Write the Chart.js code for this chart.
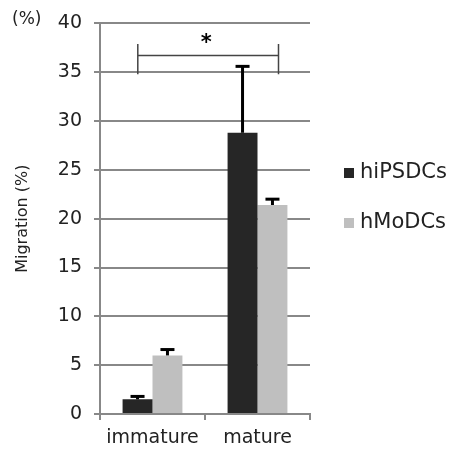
<!DOCTYPE html>
<html>
<head>
<meta charset="utf-8">
<script src="https://cdn.jsdelivr.net/npm/chart.js@4.4.0/dist/chart.umd.min.js"></script>
<style>
  body { margin: 0; background: #fff; }
  #wrap { width: 450px; height: 450px; }
</style>
</head>
<body>
<div id="wrap"><canvas id="myChart" width="450" height="450"></canvas></div>
<script>
var categories = ['immature', 'mature'];
var seriesNames = ['hiPSDCs', 'hMoDCs'];
var hiPSValues = [1.5, 28.8];
var hiPSErrors = [0.3, 6.8];
var hMoValues = [6.0, 21.4];
var hMoErrors = [0.6, 0.6];
var yTicks = [0, 5, 10, 15, 20, 25, 30, 35, 40];
// significance bracket, x in category index units
var bracket = { from: -0.14, to: 1.2, y: 36.7, top: 37.9, bottom: 34.8, label: '*' };

var font = '"DejaVu Sans", Verdana, sans-serif';

var extras = {
  id: 'extras',
  afterDatasetsDraw: function(chart) {
    var ctx = chart.ctx;
    var y = chart.scales.y, x = chart.scales.x;
    ctx.save();
    // error bars
    var errs = [hiPSErrors, hMoErrors];
    chart.data.datasets.forEach(function(ds, di) {
      var meta = chart.getDatasetMeta(di);
      meta.data.forEach(function(bar, i) {
        var top = y.getPixelForValue(ds.data[i] + errs[di][i]);
        ctx.strokeStyle = '#000';
        ctx.lineWidth = 3;
        ctx.beginPath();
        ctx.moveTo(bar.x, bar.y);
        ctx.lineTo(bar.x, top);
        ctx.stroke();
        ctx.beginPath();
        ctx.moveTo(bar.x - 7, top);
        ctx.lineTo(bar.x + 7, top);
        ctx.stroke();
      });
    });
    // bracket
    var x1 = x.getPixelForValue(bracket.from);
    var x2 = x.getPixelForValue(bracket.to);
    var by = y.getPixelForValue(bracket.y);
    ctx.strokeStyle = '#444';
    ctx.lineWidth = 1.5;
    ctx.beginPath();
    ctx.moveTo(x1, by); ctx.lineTo(x2, by);
    ctx.moveTo(x1, y.getPixelForValue(bracket.top)); ctx.lineTo(x1, y.getPixelForValue(bracket.bottom));
    ctx.moveTo(x2, y.getPixelForValue(bracket.top)); ctx.lineTo(x2, y.getPixelForValue(bracket.bottom));
    ctx.stroke();
    ctx.fillStyle = '#000';
    ctx.font = 'bold 21px ' + font;
    ctx.textAlign = 'center';
    ctx.textBaseline = 'middle';
    ctx.fillText(bracket.label, (x1 + x2) / 2 - 2, by - 12);
    // (%) unit label
    ctx.font = '17px ' + font;
    ctx.textAlign = 'left';
    ctx.fillStyle = '#222';
    ctx.fillText('(%)', 12, 20);
    // legend
    var colors = ['#262626', '#bfbfbf'];
    ctx.font = '21px ' + font;
    seriesNames.forEach(function(name, i) {
      var ly = 173 + i * 50;
      ctx.fillStyle = colors[i];
      ctx.fillRect(344, ly - 5, 10, 10);
      ctx.fillStyle = '#222';
      ctx.fillText(name, 360, ly);
    });
    ctx.restore();
  }
};

new Chart(document.getElementById('myChart'), {
  type: 'bar',
  data: {
    labels: categories,
    datasets: [{
      label: seriesNames[0],
      data: hiPSValues,
      backgroundColor: '#262626'
    }, {
      label: seriesNames[1],
      data: hMoValues,
      backgroundColor: '#bfbfbf'
    }]
  },
  options: {
    responsive: false,
    animation: false,
    layout: { padding: { top: 23, right: 140, left: 0, bottom: 0 } },
    plugins: { legend: { display: false }, tooltip: { enabled: false } },
    datasets: { bar: { categoryPercentage: 0.57, barPercentage: 1 } },
    scales: {
      x: {
        afterFit: function(scale) { scale.height = 36; },
        grid: { drawOnChartArea: false, drawTicks: true, tickLength: 6, color: '#888', lineWidth: 2 },
        border: { color: '#888', width: 2 },
        ticks: { color: '#222', font: { family: font, size: 19 }, padding: 7 }
      },
      y: {
        min: 0, max: 40,
        afterBuildTicks: function(scale) { scale.ticks = yTicks.map(function(v) { return { value: v }; }); },
        afterFit: function(scale) { scale.width = 100; },
        grid: { color: '#888', lineWidth: 2, tickLength: 6 },
        border: { color: '#888', width: 2 },
        ticks: { color: '#222', font: { family: font, size: 19 }, padding: 12 },
        title: { display: true, text: 'Migration (%)', color: '#222', font: { family: font, size: 16 }, padding: { top: 13, bottom: 0 } }
      }
    }
  },
  plugins: [extras]
});
</script>
</body>
</html>
